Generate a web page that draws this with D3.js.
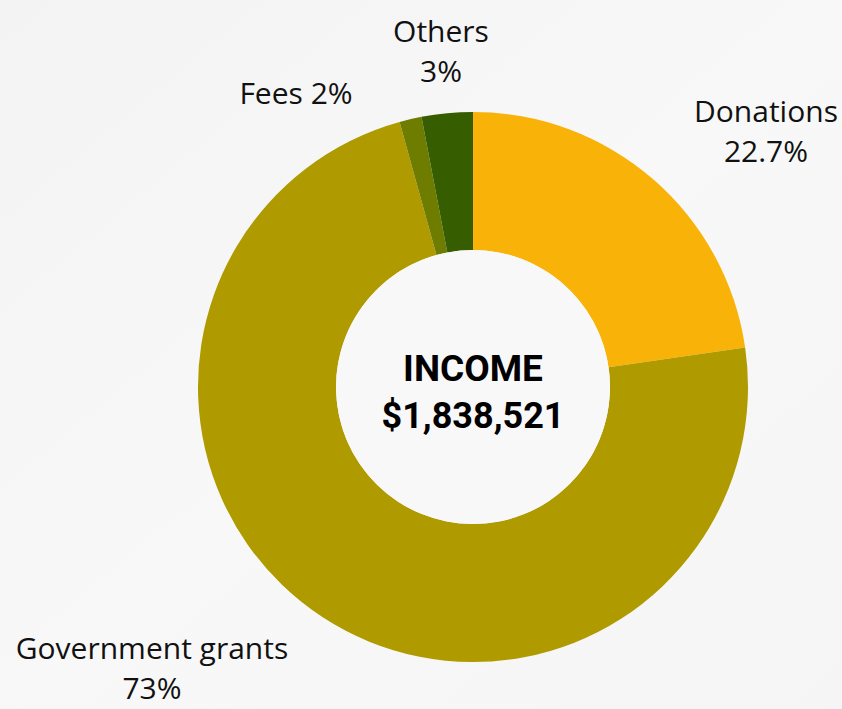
<!DOCTYPE html>
<html>
<head>
<meta charset="utf-8">
<script src="https://cdn.jsdelivr.net/npm/d3@7"></script>
<style>
  html, body { margin: 0; padding: 0; background: #f6f6f6; }
  svg { display: block; }
</style>
</head>
<body>
<svg id="chart" width="842" height="709"></svg>
<script>
// ---- data ----
const categories = ["Donations", "Government grants", "Fees", "Others"];
const values = [22.7, 73, 1.3, 3];
const labelLines = [["Donations", "22.7%"], ["Government grants", "73%"], ["Fees 2%"], ["Others", "3%"]];
const colors = ["#f9b208", "#af9a00", "#6e7d00", "#365e00"];
const centerTitle = "INCOME";
const centerValue = "$1,838,521";

// ---- layout ----
const W = 842, H = 709;
const cx = 473, cy = 387;
const outerR = 275, innerR = 137;
// label anchor positions (relative to chart center) per category
const labelPos = [[293, -265], [-321, 272], [-177, -283], [-32, -345]];
const lineGap = 40;

const svg = d3.select("#chart");

const defs = svg.append("defs");
const grad = defs.append("linearGradient").attr("id", "bg").attr("x1", 0).attr("y1", 0).attr("x2", 1).attr("y2", 1);
grad.append("stop").attr("offset", 0).attr("stop-color", "#f3f3f3");
grad.append("stop").attr("offset", 0.5).attr("stop-color", "#f8f8f8");
grad.append("stop").attr("offset", 1).attr("stop-color", "#f5f5f5");
svg.append("rect").attr("width", W).attr("height", H).attr("fill", "url(#bg)");

const g = svg.append("g").attr("transform", `translate(${cx},${cy})`);

const pie = d3.pie().sort(null).value(d => d.value);
const arcs = pie(categories.map((c, i) => ({ cat: c, value: values[i], i })));
const arc = d3.arc().innerRadius(innerR).outerRadius(outerR);

g.selectAll("path.slice").data(arcs).join("path")
  .attr("class", "slice")
  .attr("d", arc)
  .attr("fill", d => colors[d.data.i]);

g.append("circle").attr("r", innerR).attr("fill", "#f8f8f8");

const font = "'Open Sans', 'Noto Sans', sans-serif";
const lbl = g.selectAll("text.lbl").data(arcs).join("text")
  .attr("class", "lbl")
  .attr("text-anchor", "middle")
  .attr("font-family", font)
  .attr("font-size", 30)
  .attr("fill", "#111");
lbl.each(function(d) {
  const t = d3.select(this);
  const [x, y] = labelPos[d.data.i];
  labelLines[d.data.i].forEach((line, k) => {
    t.append("tspan").attr("x", x).attr("y", y + k * lineGap).text(line);
  });
});

g.append("text").attr("text-anchor", "middle").attr("y", -6)
  .attr("font-family", "Roboto, 'Open Sans', sans-serif").attr("font-weight", 700)
  .attr("font-size", 37).attr("fill", "#000").text(centerTitle);
g.append("text").attr("text-anchor", "middle").attr("y", 41)
  .attr("font-family", "Roboto, 'Open Sans', sans-serif").attr("font-weight", 700)
  .attr("font-size", 36).attr("fill", "#000").text(centerValue);
</script>
</body>
</html>
